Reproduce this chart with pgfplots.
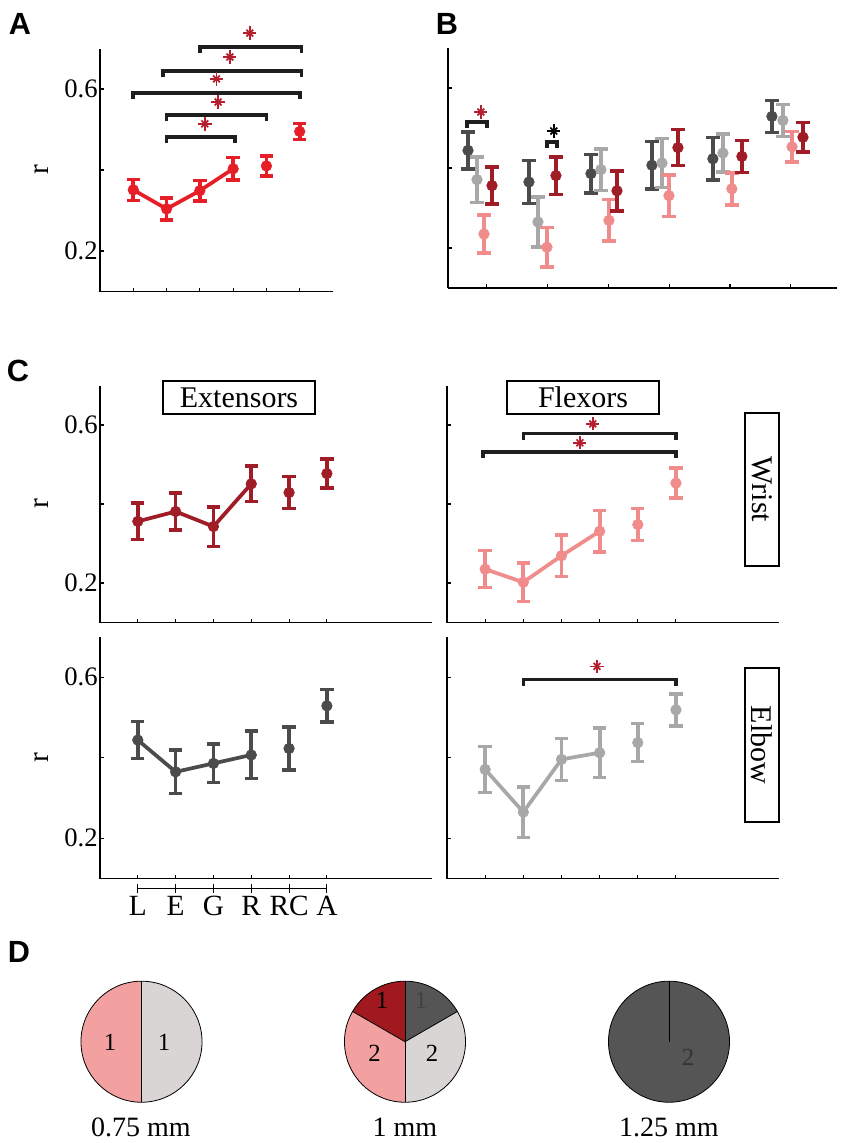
\documentclass[border=0pt]{standalone}
\usepackage{fontspec}
\setmainfont{Liberation Serif}
\newfontfamily\panelfont{Liberation Sans}
\usepackage{pgfplots}
\pgfplotsset{compat=1.18}
\usepackage{pgfplotstable}

\definecolor{redA}{RGB}{230,30,40}
\definecolor{dred}{RGB}{160,28,38}
\definecolor{pinkc}{RGB}{240,140,140}
\definecolor{dgray}{RGB}{75,75,75}
\definecolor{lgray}{RGB}{168,168,168}
\definecolor{starred}{RGB}{180,30,45}
\definecolor{brk}{RGB}{30,30,30}
\definecolor{piepink}{RGB}{243,160,160}
\definecolor{pielgray}{RGB}{218,213,213}
\definecolor{piedred}{RGB}{160,25,30}
\definecolor{piedgray}{RGB}{85,85,85}

\newcommand\tickfont{\fontsize{20}{20}\selectfont}
\newcommand\labfont{\fontsize{22}{22}\selectfont}
\newcommand\boxfont{\fontsize{22.5}{22.5}\selectfont}
\newcommand\piefont{\fontsize{18.5}{18.5}\selectfont}
\newcommand\mmfont{\fontsize{21}{21}\selectfont}
\newcommand\letterfont{\panelfont\bfseries\fontsize{23}{23}\selectfont}

% panel A (all muscles)
\pgfplotstableread{
x y e
1 0.351 0.026
2 0.304 0.027
3 0.349 0.025
4 0.403 0.028
5 0.410 0.025
6 0.495 0.020
}\ALL
% extensors, wrist (dark red)
\pgfplotstableread{
x xb y e
1 1.084 0.356 0.046
2 2.136 0.381 0.047
3 3.140 0.343 0.050
4 4.143 0.451 0.045
5 5.195 0.429 0.040
6 6.200 0.477 0.037
}\EW
% flexors, wrist (pink)
\pgfplotstableread{
x xb y e
1 0.952 0.235 0.047
2 1.988 0.202 0.049
3 3.008 0.269 0.052
4 3.995 0.331 0.052
5 5.030 0.348 0.040
6 6.020 0.453 0.038
}\FW
% extensors, elbow (dark gray)
\pgfplotstableread{
x xb y e
1 0.689 0.444 0.046
2 1.692 0.365 0.054
3 2.712 0.386 0.048
4 3.715 0.407 0.059
5 4.718 0.423 0.053
6 5.689 0.529 0.040
}\EE
% flexors, elbow (light gray)
\pgfplotstableread{
x xb y e
1 0.837 0.371 0.057
2 1.840 0.265 0.0625
3 2.876 0.396 0.052
4 3.880 0.4125 0.061
5 4.883 0.4375 0.047
6 5.870 0.519 0.040
}\FE

\pgfplotsset{
  panel/.style={scale only axis, axis x line=bottom, axis y line=left,
    axis line style={-, line width=1.1pt, black},
    ymin=0.1, ymax=0.7, ytick={0.2,0.4,0.6}, xtick={1,2,3,4,5,6},
    major tick length=3pt, tick style={line width=0.8pt, black}, tick align=inside,
    clip=false, ticklabel style={font=\tickfont},
    /pgf/number format/assume math mode=true,
    xticklabels={,,,,,}, yticklabels={,,}},
  leftpanel/.style={yticklabels={0.2,,0.6}, yticklabel style={inner sep=1.5pt},
    ylabel={r}, ylabel style={font=\labfont, anchor=center,
      at={([xshift=-43.5pt]axis description cs:0,0.5)}}},
  ebar/.style={error bars/.cd, y dir=both, y explicit,
    error bar style={line width=2.8pt},
    error mark options={rotate=90, mark size=5pt, line width=2.6pt}},
  pts/.style={only marks, mark=*, mark size=4pt, ebar},
  conn/.style={line width=2.8pt, no marks, skip coords between index={4}{6}},
  brack/.style={brk, line width=2.7pt, no marks},
}
\newcommand{\stars}[2]{%
  \addplot[#1, only marks, mark=+, mark size=5pt, mark options={line width=1.3pt}] coordinates {#2};
  \addplot[#1, only marks, mark=x, mark size=3.6pt, mark options={line width=1.3pt}] coordinates {#2};}

\begin{document}
\begin{tikzpicture}
\path[use as bounding box] (0,0) rectangle (638.25pt,-857.25pt);

% ---------- A ----------
\begin{axis}[panel, leftpanel, at={(75pt,-218.625pt)}, anchor=south west,
  width=174.75pt, height=182.25pt, xmin=0, xmax=7]
\addplot[redA, conn] table[x=x,y=y] {\ALL};
\addplot[redA, pts] table[x=x,y=y,y error=e] {\ALL};
\addplot[brack] coordinates {(3,0.689)(3,0.704)(6.05,0.704)(6.05,0.689)};
\addplot[brack] coordinates {(1.9,0.629)(1.9,0.644)(6.05,0.644)(6.05,0.629)};
\addplot[brack] coordinates {(1,0.575)(1,0.590)(6,0.590)(6,0.575)};
\addplot[brack] coordinates {(2,0.521)(2,0.536)(5,0.536)(5,0.521)};
\addplot[brack] coordinates {(2,0.466)(2,0.481)(4.05,0.481)(4.05,0.466)};
\stars{starred}{(4.5,0.738)(3.9,0.679)(3.5,0.625)(3.55,0.568)(3.15,0.514)}
\end{axis}

% ---------- B ----------
\begin{axis}[panel, at={(336pt,-216pt)}, anchor=south west,
  width=291.75pt, height=180pt, xmin=0.36, xmax=6.76]
\addplot[dgray, pts] table[x=xb,y=y,y error=e] {\EE};
\addplot[lgray, pts] table[x=xb,y=y,y error=e] {\FE};
\addplot[pinkc, pts] table[x=xb,y=y,y error=e] {\FW};
\addplot[dred, pts] table[x=xb,y=y,y error=e] {\EW};
\addplot[brack] coordinates {(0.672,0.500)(0.672,0.515)(1.0,0.515)(1.0,0.500)};
\addplot[brack] coordinates {(1.99,0.450)(1.99,0.465)(2.15,0.465)(2.15,0.450)};
\stars{starred}{(0.9,0.540)}
\stars{black}{(2.1,0.4925)}
\end{axis}

% ---------- C top-left: extensors wrist ----------
\begin{axis}[panel, leftpanel, at={(75pt,-466.875pt)}, anchor=south west,
  width=249pt, height=177.75pt, xmin=0, xmax=8.78]
\addplot[dred, conn] table[x=x,y=y] {\EW};
\addplot[dred, pts] table[x=x,y=y,y error=e] {\EW};
\end{axis}

% ---------- C top-right: flexors wrist ----------
\begin{axis}[panel, at={(335.25pt,-466.875pt)}, anchor=south west,
  width=249pt, height=177.75pt, xmin=0, xmax=8.7]
\addplot[pinkc, conn] table[x=x,y=y] {\FW};
\addplot[pinkc, pts] table[x=x,y=y,y error=e] {\FW};
\addplot[brack] coordinates {(2,0.563)(2,0.578)(6,0.578)(6,0.563)};
\addplot[brack] coordinates {(0.95,0.517)(0.95,0.532)(6,0.532)(6,0.517)};
\stars{starred}{(3.82,0.603)(3.48,0.555)}
\end{axis}

% ---------- C bottom-left: extensors elbow ----------
\begin{axis}[panel, leftpanel, at={(75pt,-658.875pt)}, anchor=south west,
  width=249pt, height=181.125pt, xmin=0, xmax=8.78,
  xticklabels={L,E,G,R,RC,A},
  xticklabel style={font=\labfont, inner sep=0pt, anchor=north, yshift=-13pt}]
\addplot[dgray, conn] table[x=x,y=y] {\EE};
\addplot[dgray, pts] table[x=x,y=y,y error=e] {\EE};
\addplot[black, line width=0.8pt, mark=|, mark size=3.4pt, mark options={solid, line width=0.8pt}]
  coordinates {(1,0.0757)(2,0.0757)(3,0.0757)(4,0.0757)(5,0.0757)(6,0.0757)};
\end{axis}

% ---------- C bottom-right: flexors elbow ----------
\begin{axis}[panel, at={(335.25pt,-658.875pt)}, anchor=south west,
  width=249pt, height=181.125pt, xmin=0, xmax=8.7]
\addplot[lgray, conn] table[x=x,y=y] {\FE};
\addplot[lgray, pts] table[x=x,y=y,y error=e] {\FE};
\addplot[brack] coordinates {(2,0.579)(2,0.594)(6,0.594)(6,0.579)};
\stars{starred}{(3.93,0.627)}
\end{axis}

% ---------- D: pies (counts 1/1 ; 1/1/2/2 ; 2) ----------
\begin{axis}[scale only axis, hide axis, clip=false, at={(0pt,-857.25pt)}, anchor=south west,
  width=638.25pt, height=159.75pt, xmin=0, xmax=851, ymin=-1143, ymax=-930]
% pie 1: 0.75 mm
\fill[piepink] (axis cs:141.5,-1041.7) -- ++(90:45.4pt) arc[start angle=90, end angle=270, radius=45.4pt] -- cycle;
\fill[pielgray] (axis cs:141.5,-1041.7) -- ++(-90:45.4pt) arc[start angle=-90, end angle=90, radius=45.4pt] -- cycle;
\draw[line width=0.6pt] (axis cs:141.5,-1041.7) circle[radius=45.4pt];
\draw[line width=0.6pt] (axis cs:141.5,-1041.7) -- ++(90:45.4pt);
\draw[line width=0.6pt] (axis cs:141.5,-1041.7) -- ++(-90:45.4pt);
% pie 2: 1 mm
\fill[piedred] (axis cs:405,-1041.7) -- ++(90:45.4pt) arc[start angle=90, end angle=150, radius=45.4pt] -- cycle;
\fill[piepink] (axis cs:405,-1041.7) -- ++(150:45.4pt) arc[start angle=150, end angle=270, radius=45.4pt] -- cycle;
\fill[pielgray] (axis cs:405,-1041.7) -- ++(270:45.4pt) arc[start angle=270, end angle=390, radius=45.4pt] -- cycle;
\fill[piedgray] (axis cs:405,-1041.7) -- ++(30:45.4pt) arc[start angle=30, end angle=90, radius=45.4pt] -- cycle;
\draw[line width=0.6pt] (axis cs:405,-1041.7) circle[radius=45.4pt];
\draw[line width=0.6pt] (axis cs:405,-1041.7) -- ++(90:45.4pt);
\draw[line width=0.6pt] (axis cs:405,-1041.7) -- ++(150:45.4pt);
\draw[line width=0.6pt] (axis cs:405,-1041.7) -- ++(270:45.4pt);
\draw[line width=0.6pt] (axis cs:405,-1041.7) -- ++(30:45.4pt);
% pie 3: 1.25 mm
\fill[piedgray] (axis cs:669,-1041.7) circle[radius=45.4pt];
\draw[line width=0.6pt] (axis cs:669,-1041.7) circle[radius=45.4pt];
\draw[line width=0.6pt] (axis cs:669,-1041.7) -- ++(90:45.4pt);
% numbers
\node[font=\piefont] at (axis cs:110,-1042) {1};
\node[font=\piefont] at (axis cs:164,-1042) {1};
\node[font=\piefont] at (axis cs:382,-1000) {1};
\node[font=\piefont, text=black!75] at (axis cs:421,-1000) {1};
\node[font=\piefont] at (axis cs:374.5,-1053) {2};
\node[font=\piefont] at (axis cs:432,-1053) {2};
\node[font=\piefont, text=black!80] at (axis cs:688,-1057) {2};
\node[font=\mmfont] at (axis cs:141,-1127) {0.75 mm};
\node[font=\mmfont] at (axis cs:405,-1127) {1 mm};
\node[font=\mmfont] at (axis cs:669,-1127) {1.25 mm};
\end{axis}

% ---------- boxes and panel letters ----------
\node[draw, line width=0.8pt, minimum width=114pt, minimum height=24.75pt, inner sep=0pt, font=\boxfont]
  at (179.25pt,-298.125pt) {Extensors};
\node[draw, line width=0.8pt, minimum width=114pt, minimum height=24.75pt, inner sep=0pt, font=\boxfont]
  at (437.25pt,-298.125pt) {Flexors};
\node[draw, line width=0.8pt, rotate=-90, minimum width=114.75pt, minimum height=25.5pt, inner sep=0pt, font=\boxfont]
  at (571.5pt,-367.125pt) {Wrist};
\node[draw, line width=0.8pt, rotate=-90, minimum width=115.5pt, minimum height=25.5pt, inner sep=0pt, font=\boxfont]
  at (571.5pt,-558.75pt) {Elbow};
\node[font=\letterfont] at (15pt,-17.6pt) {A};
\node[font=\letterfont] at (335.25pt,-17.6pt) {B};
\node[font=\letterfont] at (13.5pt,-278.25pt) {C};
\node[font=\letterfont] at (14.25pt,-713.6pt) {D};
\end{tikzpicture}
\end{document}
